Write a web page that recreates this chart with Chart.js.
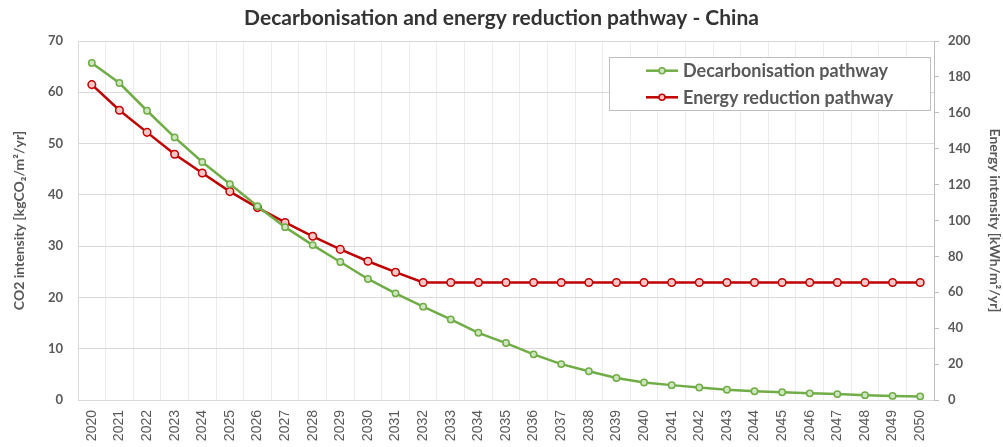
<!DOCTYPE html>
<html>
<head>
<meta charset="utf-8">
<script src="https://cdn.jsdelivr.net/npm/chart.js@4/dist/chart.umd.min.js"></script>
<style>
html,body{margin:0;padding:0;background:#fff;}
#wrap{width:1003px;height:447px;position:relative;}
</style>
</head>
<body>
<div id="wrap"><canvas id="c" width="1003" height="447"></canvas></div>
<script>
const years = ['2020','2021','2022','2023','2024','2025','2026','2027','2028','2029','2030',
  '2031','2032','2033','2034','2035','2036','2037','2038','2039','2040',
  '2041','2042','2043','2044','2045','2046','2047','2048','2049','2050'];
const decarbonisation = [65.7, 61.8, 56.4, 51.2, 46.4, 42.1, 37.8, 33.7, 30.2, 26.9, 23.6,
  20.8, 18.2, 15.7, 13.1, 11.1, 8.9, 7.0, 5.6, 4.3, 3.4,
  2.9, 2.45, 2.0, 1.7, 1.5, 1.3, 1.15, 0.95, 0.8, 0.7];
const energyReduction = [175.7, 161.4, 149.1, 136.9, 126.5, 116.1, 107.2, 98.9, 91.2, 83.9, 77.3,
  71.2, 65.5, 65.5, 65.5, 65.5, 65.5, 65.5, 65.5, 65.5, 65.5,
  65.5, 65.5, 65.5, 65.5, 65.5, 65.5, 65.5, 65.5, 65.5, 65.5];
const leftTicks = [0,10,20,30,40,50,60,70];
const rightTicks = [0,20,40,60,80,100,120,140,160,180,200];

const FONT = 'Lato';
const GREY = '#595959';

const legendPlugin = {
  id: 'boxLegend',
  afterDraw(chart) {
    const ctx = chart.ctx;
    const x0 = 609.5, y0 = 57.5, w = 321, h = 53;
    ctx.save();
    ctx.fillStyle = '#fff';
    ctx.fillRect(x0, y0, w, h);
    ctx.strokeStyle = '#bfbfbf';
    ctx.lineWidth = 1;
    ctx.strokeRect(x0, y0, w, h);
    const rows = [70.7, 97.3];
    chart.data.datasets.forEach((ds, i) => {
      const yy = rows[i];
      ctx.strokeStyle = ds.borderColor;
      ctx.lineWidth = 2.5;
      ctx.beginPath(); ctx.moveTo(646, yy); ctx.lineTo(678, yy); ctx.stroke();
      ctx.beginPath(); ctx.arc(662, yy, 3, 0, Math.PI*2);
      ctx.fillStyle = ds.pointBackgroundColor; ctx.fill();
      ctx.lineWidth = 1.5; ctx.strokeStyle = ds.borderColor; ctx.stroke();
      ctx.fillStyle = GREY;
      ctx.font = 'bold 18px ' + FONT;
      ctx.textBaseline = 'middle';
      ctx.textAlign = 'left';
      ctx.fillText(ds.label, 683, yy + 0.5);
    });
    ctx.restore();
  }
};

new Chart(document.getElementById('c'), {
  type: 'line',
  data: {
    labels: years,
    datasets: [
      {
        label: 'Decarbonisation pathway',
        data: decarbonisation,
        yAxisID: 'y',
        borderColor: '#70ad47',
        backgroundColor: '#70ad47',
        pointBackgroundColor: '#cfe6c0',
        pointBorderColor: '#70ad47',
        borderWidth: 2.5,
        pointRadius: 3.2,
        pointBorderWidth: 1.5,
        tension: 0
      },
      {
        label: 'Energy reduction pathway',
        data: energyReduction,
        yAxisID: 'y2',
        borderColor: '#c00000',
        backgroundColor: '#c00000',
        pointBackgroundColor: '#f7c6c6',
        pointBorderColor: '#c00000',
        borderWidth: 2.5,
        pointRadius: 3.8,
        pointBorderWidth: 1.5,
        tension: 0
      }
    ]
  },
  options: {
    responsive: false,
    animation: false,
    devicePixelRatio: 1,
    layout: { padding: 0 },
    plugins: {
      legend: { display: false },
      tooltip: { enabled: false },
      title: {
        display: true,
        text: 'Decarbonisation and energy reduction pathway - China',
        color: '#333333',
        font: { family: FONT, size: 21, weight: 'bold', lineHeight: 1.2 },
        padding: { top: 6, bottom: 9.8 }
      }
    },
    scales: {
      x: {
        type: 'category',
        offset: true,
        grid: { offset: true, color: '#ececec', lineWidth: 1, drawTicks: false },
        border: { display: true, color: '#d9d9d9' },
        ticks: { color: GREY, font: { family: 'Liberation Sans', size: 14, weight: 'normal' }, minRotation: 90, maxRotation: 90, padding: 10, autoSkip: false },
        afterFit(s) { s.height = 47; }
      },
      y: {
        position: 'left',
        min: 0, max: 70,
        afterBuildTicks(s) { s.ticks = leftTicks.map(v => ({ value: v })); },
        grid: { color: '#d9d9d9', lineWidth: 1, drawTicks: false },
        border: { display: true, color: '#d9d9d9' },
        ticks: { color: GREY, font: { family: FONT, size: 13, weight: 'bold' }, padding: 15 },
        title: {
          display: true,
          text: 'CO2 intensity [kgCO\u2082/m\u00b2/yr]',
          color: GREY,
          font: { family: FONT, size: 14, weight: 'bold', lineHeight: 1.2 },
          padding: { top: 11, bottom: 0 }
        },
        afterFit(s) { s.width = 78; }
      },
      y2: {
        position: 'right',
        min: 0, max: 200,
        afterBuildTicks(s) { s.ticks = rightTicks.map(v => ({ value: v })); },
        grid: { drawOnChartArea: false, drawTicks: true, tickLength: 5, color: '#bfbfbf' },
        border: { display: true, color: '#bfbfbf' },
        ticks: { color: GREY, font: { family: FONT, size: 13, weight: 'bold' }, padding: 9 },
        title: {
          display: true,
          text: 'Energy intensity [kWh/m\u00b2/yr]',
          color: GREY,
          font: { family: FONT, size: 14, weight: 'bold', lineHeight: 1.2 },
          padding: { top: 0, bottom: 0 }
        },
        afterFit(s) { s.width = 69; }
      }
    }
  },
  plugins: [legendPlugin]
});
</script>
</body>
</html>
